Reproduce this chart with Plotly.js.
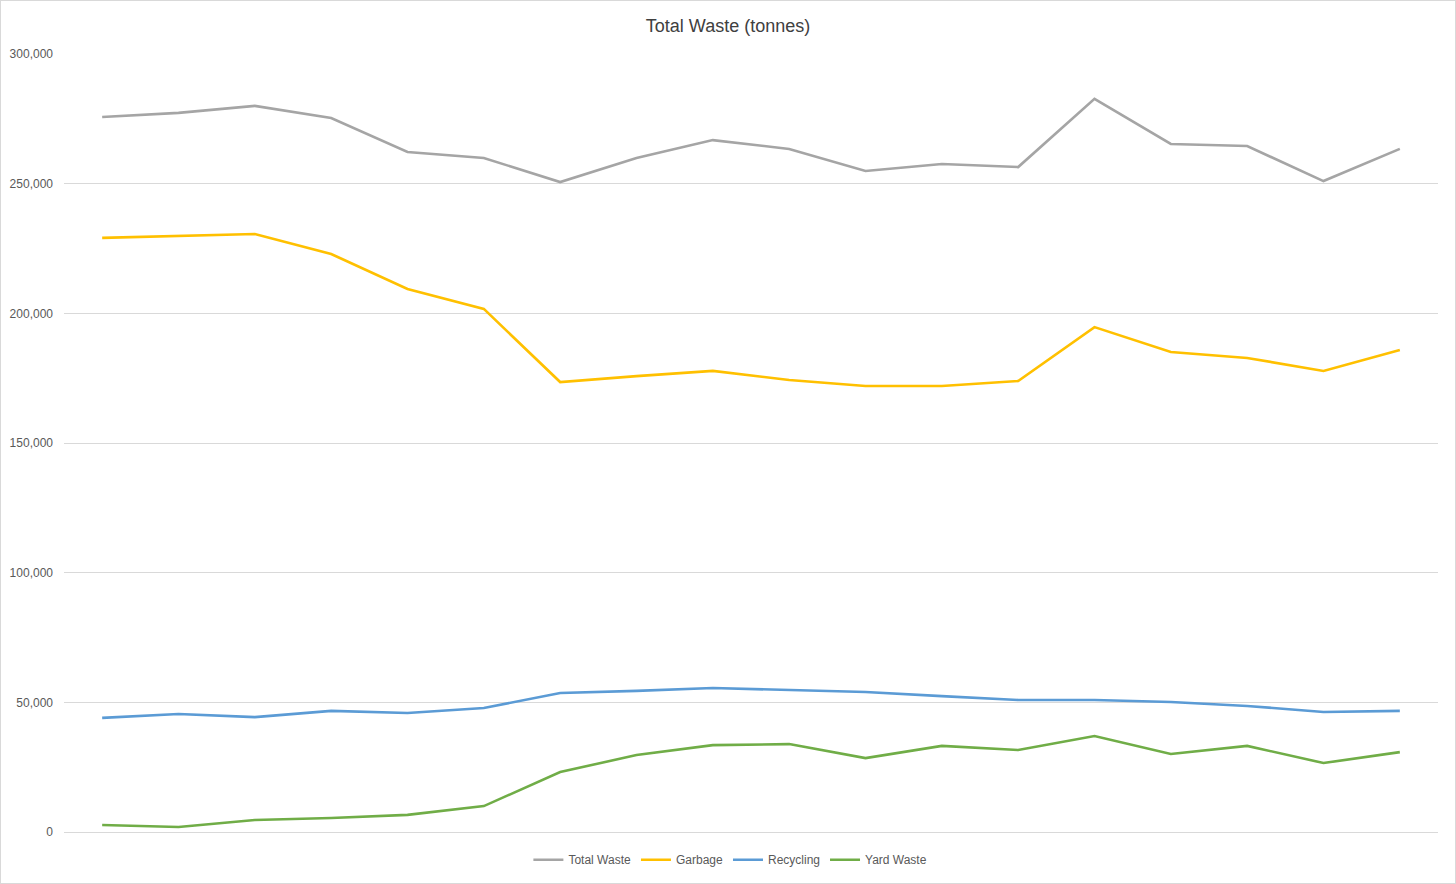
<!DOCTYPE html>
<html>
<head>
<meta charset="utf-8">
<script src="https://cdn.plot.ly/plotly-3.0.1.min.js"></script>
<style>
  html, body { margin: 0; padding: 0; background: #fff; }
  #myDiv { width: 1454px; height: 882px; border: 1px solid #d9d9d9; }
</style>
</head>
<body>
<div id="myDiv"></div>
<script>
// one point per period, no labels shown on the x axis
var periods = [1, 2, 3, 4, 5, 6, 7, 8, 9, 10, 11, 12, 13, 14, 15, 16, 17, 18];

var totalWaste = [275700, 277300, 280000, 275300, 262200, 259900, 250600, 259900, 266800,
                  263400, 254900, 257600, 256400, 282700, 265300, 264500, 251000, 263400];
var garbage = [229100, 229800, 230600, 222900, 209400, 201700, 173500, 175800, 177800,
               174300, 172000, 172000, 173900, 194700, 185100, 182800, 177800, 185900];
var recycling = [44000, 45500, 44300, 46700, 45900, 47800, 53600, 54400, 55500,
                 54800, 54000, 52400, 50900, 50900, 50100, 48600, 46300, 46700];
var yardWaste = [2700, 1900, 4600, 5400, 6600, 10000, 23100, 29700, 33500,
                 33900, 28500, 33200, 31600, 37000, 30100, 33200, 26600, 30800];

function line(name, values, color) {
  return {
    x: periods,
    y: values,
    name: name,
    type: 'scatter',
    mode: 'lines',
    line: {color: color, width: 2.6},
    hoverinfo: 'y+name'
  };
}

var data = [
  line('Total Waste', totalWaste, '#a5a5a5'),
  line('Garbage', garbage, '#ffc000'),
  line('Recycling', recycling, '#5b9bd5'),
  line('Yard Waste', yardWaste, '#70ad47')
];

var layout = {
  width: 1454,
  height: 882,
  paper_bgcolor: '#fff',
  plot_bgcolor: '#fff',
  font: {family: 'Liberation Sans, Arial, sans-serif', size: 12, color: '#595959'},
  title: {text: 'Total Waste (tonnes)', font: {size: 18, color: '#404040'}, x: 0.5, xanchor: 'center', y: 0.972, yanchor: 'middle'},
  margin: {l: 63, r: 17, t: 53, b: 51, autoexpand: false},
  xaxis: {
    range: [0.5, 18.5],
    showticklabels: false,
    showgrid: false,
    zeroline: false,
    showline: false,
    ticks: ''
  },
  yaxis: {
    range: [0, 300000],
    tickvals: [0, 50000, 100000, 150000, 200000, 250000, 300000],
    tickformat: ',d',
    gridcolor: '#d9d9d9',
    gridwidth: 1,
    zeroline: true,
    zerolinecolor: '#d9d9d9',
    zerolinewidth: 1,
    showline: false,
    ticks: '',
    ticklabelstandoff: 10
  },
  showlegend: true,
  legend: {
    orientation: 'h',
    x: 0.485,
    xanchor: 'center',
    y: -0.017,
    yanchor: 'top',
    font: {size: 12, color: '#595959'},
    itemwidth: 30,
    tracegroupgap: 0
  }
};

Plotly.newPlot('myDiv', data, layout, {displayModeBar: false});
</script>
</body>
</html>
